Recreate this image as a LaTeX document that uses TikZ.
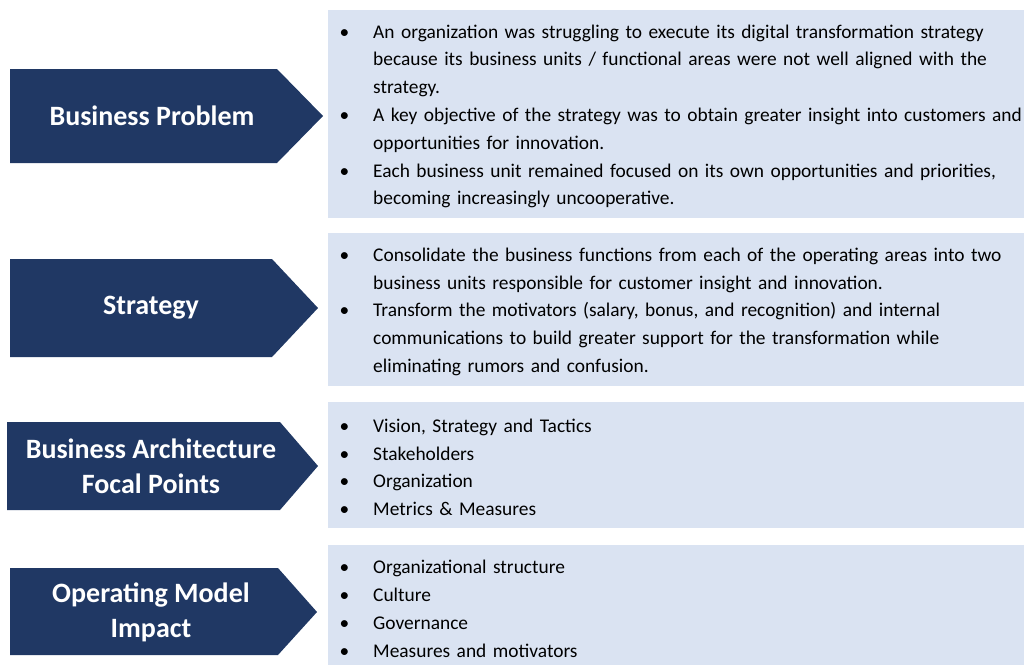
\documentclass[tikz,border=0pt]{standalone}
\usepackage{fontspec}
\setmainfont{Carlito}
\definecolor{navy}{RGB}{32,56,100}
\definecolor{paleblue}{RGB}{218,227,242}
\newenvironment{bullets}{\vspace*{-10pt}\begin{list}{\textbullet}{\setlength{\leftmargin}{45pt}\setlength{\rightmargin}{-60pt}\setlength{\labelwidth}{21pt}\setlength{\labelsep}{24pt}\setlength{\itemsep}{0pt}\setlength{\parsep}{0pt}\setlength{\topsep}{0pt}\setlength{\partopsep}{0pt}}\raggedright}{\end{list}}
\begin{document}
\begin{tikzpicture}[x=1pt,y=-1pt,
	tag/.style={fill=navy},
	tagtext/.style={text=white,align=center,font=\fontsize{28}{35}\selectfont\bfseries},
	notes/.style={fill=paleblue,anchor=north west,inner sep=0pt,text width=696pt,font=\fontsize{19.4}{27.8}\selectfont}]
	\useasboundingbox (0,0) rectangle (1024,664);
	% arrows on the left
	\fill[tag] (10,69) -- (277,69) -- (323,116) -- (277,163) -- (10,163) -- cycle;
	\fill[tag] (10,259) -- (272,259) -- (318,308) -- (272,357) -- (10,357) -- cycle;
	\fill[tag] (7,422) -- (280,422) -- (318,466) -- (280,510) -- (7,510) -- cycle;
	\fill[tag] (10,568) -- (278,568) -- (317,612) -- (278,655) -- (10,655) -- cycle;
	\node[tagtext] at (152,116) (problem) {Business Problem};
	\node[tagtext] at (151,308) (strategy) {Strategy};
	\node[tagtext] at (151,466) (focal) {Business Architecture\\Focal Points};
	\node[tagtext] at (151,612) (impact) {Operating Model\\Impact};
	% boxes on the right
	\node[notes,minimum height=208pt] at (328,10) (problemnotes) {\begin{bullets}
		\item An organization was struggling to execute its digital transformation strategy\newline because its business units / functional areas were not well aligned with the\newline strategy.
		\item A key objective of the strategy was to obtain greater insight into customers and\newline opportunities for innovation.
		\item Each business unit remained focused on its own opportunities and priorities,\newline becoming increasingly uncooperative.
	\end{bullets}};
	\node[notes,minimum height=153pt] at (328,233) (strategynotes) {\begin{bullets}
		\item Consolidate the business functions from each of the operating areas into two\newline business units responsible for customer insight and innovation.
		\item Transform the motivators (salary, bonus, and recognition) and internal\newline communications to build greater support for the transformation while\newline eliminating rumors and confusion.
	\end{bullets}};
	\node[notes,minimum height=126pt] at (328,402) (focalnotes) {\begin{bullets}
		\item Vision, Strategy and Tactics
		\item Stakeholders
		\item Organization
		\item Metrics \& Measures
	\end{bullets}};
	\node[notes,minimum height=123pt] at (328,545) (impactnotes) {\begin{bullets}
		\item Organizational structure
		\item Culture
		\item Governance
		\item Measures and motivators
	\end{bullets}};
\end{tikzpicture}
\end{document}
